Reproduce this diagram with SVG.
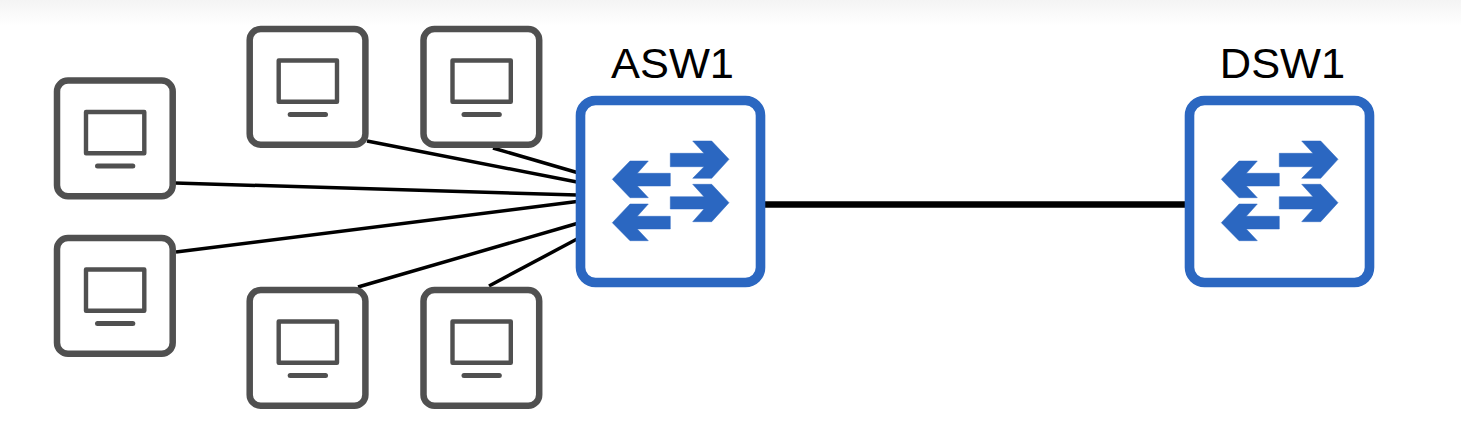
<svg xmlns="http://www.w3.org/2000/svg" xmlns:xlink="http://www.w3.org/1999/xlink" width="1461" height="447" viewBox="0 0 1461 447">
  <style>
    .pc-box { fill: #ffffff; stroke: #505050; stroke-width: 6.5; }
    .pc-screen { fill: #ffffff; stroke: #505050; stroke-width: 4.4; stroke-linejoin: round; }
    .pc-bar { fill: none; stroke: #505050; stroke-width: 5; stroke-linecap: round; }
    .sw-box { fill: #ffffff; stroke: #2b67c1; stroke-width: 9.6; }
    .sw-arrow { fill: #2b67c1; stroke: #2b67c1; stroke-width: 0.5; stroke-linejoin: round; }
    .link { stroke: #000000; stroke-width: 3.5; fill: none; }
    .trunk { stroke: #000000; stroke-width: 6.5; fill: none; }
    .label { font-family: "Liberation Sans", Arial, sans-serif; font-size: 43.4px; fill: #000000; text-anchor: middle; }
  </style>
  <defs>
    <linearGradient id="topShade" x1="0" y1="0" x2="0" y2="1">
      <stop offset="0" stop-color="#f4f4f4"/>
      <stop offset="1" stop-color="#ffffff"/>
    </linearGradient>
    <g id="pc">
      <rect class="pc-box" x="57" y="80.5" width="115.7" height="115.7" rx="11"/>
      <rect class="pc-screen" x="86" y="112" width="58.3" height="41.3"/>
      <line class="pc-bar" x1="97.5" y1="166" x2="132.8" y2="166"/>
    </g>
    <g id="switch">
      <rect class="sw-box" x="580.5" y="100.5" width="180" height="182" rx="15"/>
      <path class="sw-arrow" d="M670.3 153.3H704L692.7 141H711.7L729 159.3L711.7 178.3H692.7L704 166.7H670.3Z"/>
      <path class="sw-arrow" d="M670.3 196.7H704L692.7 184.3H711.7L729 202.7L711.7 221.7H692.7L704 209H670.3Z"/>
      <path class="sw-arrow" d="M670.3 173.3H637.3L648.3 161H630L612.3 179.3L630 197.7H648.3L637.3 186H670.3Z"/>
      <path class="sw-arrow" d="M670.3 216.3H637.3L648.3 204H630L612.3 222.7L630 240.7H648.3L637.3 229H670.3Z"/>
    </g>
  </defs>
  <rect width="1461" height="447" fill="#ffffff"/>
  <rect width="1461" height="26" fill="url(#topShade)"/>
  <g id="connectors">
    <line class="link" x1="493" y1="148" x2="577" y2="172.5"/>
    <line class="link" x1="367" y1="141" x2="577" y2="182"/>
    <line class="link" x1="175" y1="183" x2="577" y2="195"/>
    <line class="link" x1="176" y1="252" x2="577" y2="201.5"/>
    <line class="link" x1="358" y1="287" x2="577" y2="223.5"/>
    <line class="link" x1="489" y1="286" x2="577" y2="239"/>
    <line class="trunk" x1="765" y1="204.5" x2="1185" y2="204.5"/>
  </g>
  <g id="pc1"><use xlink:href="#pc" href="#pc"/></g>
  <g id="pc2"><use xlink:href="#pc" href="#pc" y="157.5"/></g>
  <g id="pc3"><use xlink:href="#pc" href="#pc" x="192.7" y="-51.5"/></g>
  <g id="pc4"><use xlink:href="#pc" href="#pc" x="366.5" y="-51.5"/></g>
  <g id="pc5"><use xlink:href="#pc" href="#pc" x="192.7" y="209.5"/></g>
  <g id="pc6"><use xlink:href="#pc" href="#pc" x="366.5" y="209.5"/></g>
  <g id="asw1">
    <use xlink:href="#switch" href="#switch"/>
    <text class="label" x="672.5" y="78">ASW1</text>
  </g>
  <g id="dsw1">
    <use xlink:href="#switch" href="#switch" x="609"/>
    <text class="label" x="1282.5" y="78">DSW1</text>
  </g>
</svg>
